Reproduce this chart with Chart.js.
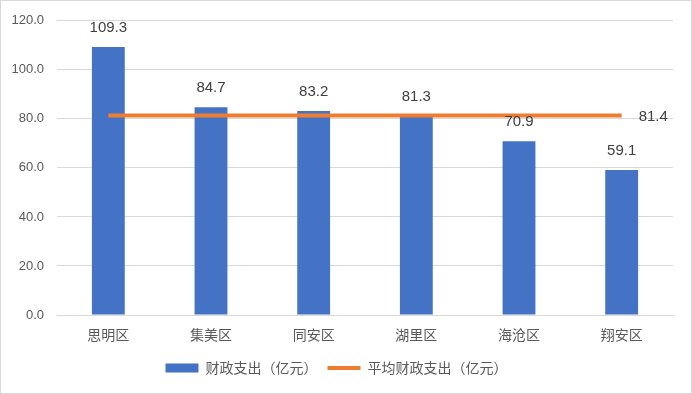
<!DOCTYPE html>
<html>
<head>
<meta charset="utf-8">
<script src="https://cdn.jsdelivr.net/npm/chart.js@4"></script>
<style>
  html, body { margin: 0; padding: 0; background: #fff; }
  canvas { display: block; }
</style>
</head>
<body>
<canvas id="chart" width="692" height="394"></canvas>
<script>
// Données du graphique
const districts = ['思明区', '集美区', '同安区', '湖里区', '海沧区', '翔安区'];
const spending = [109.3, 84.7, 83.2, 81.3, 70.9, 59.1];
const averageValue = 81.4;
const averageLine = districts.map(() => averageValue);
const yTicks = [0, 20, 40, 60, 80, 100, 120];

const numFont = "'Liberation Sans', Arial, sans-serif";
const cjkFont = "'Noto Sans CJK SC', 'Liberation Sans', sans-serif";

// Étiquettes des valeurs + cadre
const labelsPlugin = {
    id: 'valueLabels',
    afterDatasetsDraw(chart) {
        const ctx = chart.ctx;
        ctx.save();
        ctx.font = '15px ' + numFont;
        ctx.fillStyle = '#404040';
        ctx.textAlign = 'center';
        ctx.textBaseline = 'middle';
        chart.getDatasetMeta(0).data.forEach((bar, i) => {
            ctx.fillText(spending[i].toFixed(1), bar.x, bar.y - 19);
        });
        const pts = chart.getDatasetMeta(1).data;
        const last = pts[pts.length - 1];
        ctx.textAlign = 'left';
        ctx.fillText(averageValue.toFixed(1), last.x + 17, last.y + 1);
        ctx.restore();
    },
    afterDraw(chart) {
        const ctx = chart.ctx;
        ctx.save();
        ctx.strokeStyle = '#d9d9d9';
        ctx.lineWidth = 1;
        ctx.strokeRect(0.5, 0.5, chart.width - 1, chart.height - 1);
        ctx.restore();
    }
};

new Chart(document.getElementById('chart'), {
    data: {
        labels: districts,
        datasets: [{
            type: 'bar',
            label: '财政支出（亿元）',
            data: spending,
            backgroundColor: '#4472C4',
            borderWidth: 0,
            categoryPercentage: 1,
            barPercentage: 0.32,
            pointStyle: 'rect',
            order: 1
        }, {
            type: 'line',
            label: '平均财政支出（亿元）',
            data: averageLine,
            borderColor: '#ED7D31',
            backgroundColor: '#ED7D31',
            borderWidth: 4,
            pointRadius: 0,
            pointStyle: 'line',
            order: 0
        }]
    },
    options: {
        responsive: false,
        animation: false,
        layout: { padding: { top: 19, right: 19, left: 0, bottom: 9 } },
        plugins: {
            tooltip: { enabled: false },
            legend: {
                position: 'bottom',
                labels: {
                    usePointStyle: true,
                    pointStyleWidth: 33,
                    boxHeight: 9,
                    padding: 10,
                    color: '#595959',
                    font: { family: cjkFont, size: 14 },
                    sort: (a, b) => a.datasetIndex - b.datasetIndex
                }
            }
        },
        scales: {
            x: {
                grid: { display: false, drawTicks: false },
                border: { color: '#d9d9d9' },
                ticks: { color: '#595959', padding: 11, font: { family: cjkFont, size: 14 } },
                afterFit(scale) { scale.height = 36; }
            },
            y: {
                min: 0,
                max: 120,
                afterBuildTicks(scale) { scale.ticks = yTicks.map(v => ({ value: v })); },
                grid: { color: '#d9d9d9', drawTicks: false },
                border: { display: false },
                ticks: {
                    color: '#595959',
                    padding: 13,
                    font: { family: numFont, size: 13 },
                    callback: v => v.toFixed(1)
                },
                afterFit(scale) { scale.width = 57; }
            }
        }
    },
    plugins: [labelsPlugin]
});
</script>
</body>
</html>
